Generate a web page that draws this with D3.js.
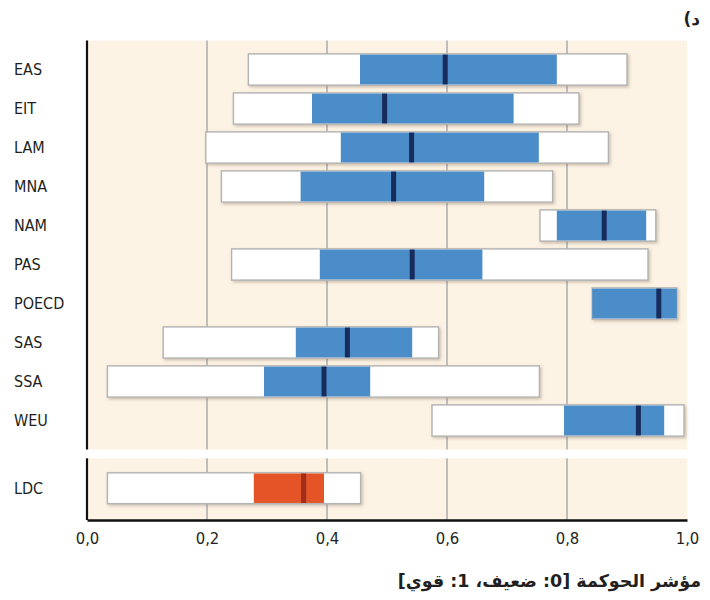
<!DOCTYPE html>
<html><head><meta charset="utf-8">
<script src="https://cdn.jsdelivr.net/npm/d3@7"></script>
<style>
html,body{margin:0;padding:0;background:#fff;}
svg{display:block;}
.lab{font-family:"Liberation Sans Narrow","DejaVu Sans Condensed","Roboto Condensed",sans-serif;fill:#231f20;}
.ar{font-family:"DejaVu Sans",sans-serif;font-weight:bold;fill:#231f20;}
</style></head>
<body><svg id="c" width="710" height="600"></svg>
<script>
// Data
const regions = ["EAS","EIT","LAM","MNA","NAM","PAS","POECD","SAS","SSA","WEU"];
const rangeMin = [0.269,0.244,0.198,0.224,0.755,0.241,0.842,0.127,0.034,0.575];
const rangeMax = [0.900,0.820,0.869,0.776,0.948,0.935,0.983,0.586,0.754,0.995];
const iqrLow  = [0.455,0.375,0.423,0.356,0.783,0.388,0.842,0.348,0.295,0.795];
const iqrHigh = [0.783,0.711,0.753,0.662,0.932,0.659,0.983,0.542,0.472,0.962];
const median  = [0.597,0.496,0.541,0.511,0.862,0.542,0.953,0.434,0.395,0.919];

const ldcGroup = ["LDC"];
const ldcMin = [0.034], ldcMax = [0.456], ldcLow = [0.278], ldcHigh = [0.395], ldcMed = [0.361];

const xTicks = [0,0.2,0.4,0.6,0.8,1.0];
const panelLabel = "د)";
const xTitle = "مؤشر الحوكمة [0: ضعيف، 1: قوي]";

const svg = d3.select("#c");
const x = d3.scaleLinear().domain([0,1]).range([87,687]);

const defs = svg.append("defs");
const f = defs.append("filter").attr("id","sh").attr("x","-5%").attr("y","-30%").attr("width","110%").attr("height","160%");
f.append("feDropShadow").attr("dx",1.5).attr("dy",1.5).attr("stdDeviation",1.6).attr("flood-color","#6e5a40").attr("flood-opacity",0.35);

function panel(cats, y0, y1, yScale, mins, maxs, lows, highs, meds, fillIqr, fillMed){
  svg.append("rect").attr("x",x(0)).attr("y",y0).attr("width",x(1)-x(0)).attr("height",y1-y0).attr("fill","#fdf3e5");
  svg.append("g").selectAll("line").data(xTicks.filter(t=>t>0 && t<1)).join("line")
    .attr("x1",d=>x(d)).attr("x2",d=>x(d)).attr("y1",y0).attr("y2",y1)
    .attr("stroke","#b8b8b8").attr("stroke-width",1.8);
  const g = svg.append("g");
  const bw = yScale.bandwidth();
  cats.forEach((c,i)=>{
    const yy = yScale(c);
    g.append("rect").attr("x",x(mins[i])).attr("y",yy).attr("width",x(maxs[i])-x(mins[i])).attr("height",bw)
      .attr("fill","#fff").attr("stroke","#b3b3b3").attr("stroke-width",1.4).attr("filter","url(#sh)");
    g.append("rect").attr("x",x(lows[i])).attr("y",yy+0.7).attr("width",x(highs[i])-x(lows[i])).attr("height",bw-1.4)
      .attr("fill",fillIqr);
    g.append("rect").attr("x",x(meds[i])-2.5).attr("y",yy+0.7).attr("width",5).attr("height",bw-1.4)
      .attr("fill",fillMed);
    svg.append("text").attr("class","lab").attr("x",14).attr("y",yy+bw/2).attr("dy","0.36em")
      .attr("font-size",16).text(c);
  });
  svg.append("line").attr("x1",x(0)).attr("x2",x(0)).attr("y1",y0).attr("y2",y1).attr("stroke","#111").attr("stroke-width",2.2);
}

const yTop = d3.scaleBand().domain(regions).range([40.5,449.5]).paddingInner(0.2).paddingOuter(0.344);
panel(regions, 40.5, 449.5, yTop, rangeMin, rangeMax, iqrLow, iqrHigh, median, "#4a8dc9", "#172c5c");

const yBot = d3.scaleBand().domain(ldcGroup).range([458.3,520]).paddingInner(0.2).paddingOuter(0.4).align(0.47);
panel(ldcGroup, 458.3, 520, yBot, ldcMin, ldcMax, ldcLow, ldcHigh, ldcMed, "#e45427", "#a02c1c");

// bottom axis
const ax = svg.append("g").attr("transform","translate(0,520)")
  .call(d3.axisBottom(x).tickValues(xTicks).tickSize(0).tickPadding(12).tickFormat(d=>d3.format(".1f")(d).replace(".",",")));
ax.select(".domain").attr("stroke","#111").attr("stroke-width",2.5);
ax.selectAll("text").attr("class","lab").attr("font-size",16.5).attr("fill","#231f20");

svg.append("text").attr("class","ar").attr("x",700).attr("y",25).attr("direction","rtl").attr("text-anchor","start")
  .attr("font-size",17).text(panelLabel);
svg.append("text").attr("class","ar").attr("x",701).attr("y",587).attr("direction","rtl").attr("text-anchor","start")
  .attr("font-size",17.5).text(xTitle);
</script></body></html>
